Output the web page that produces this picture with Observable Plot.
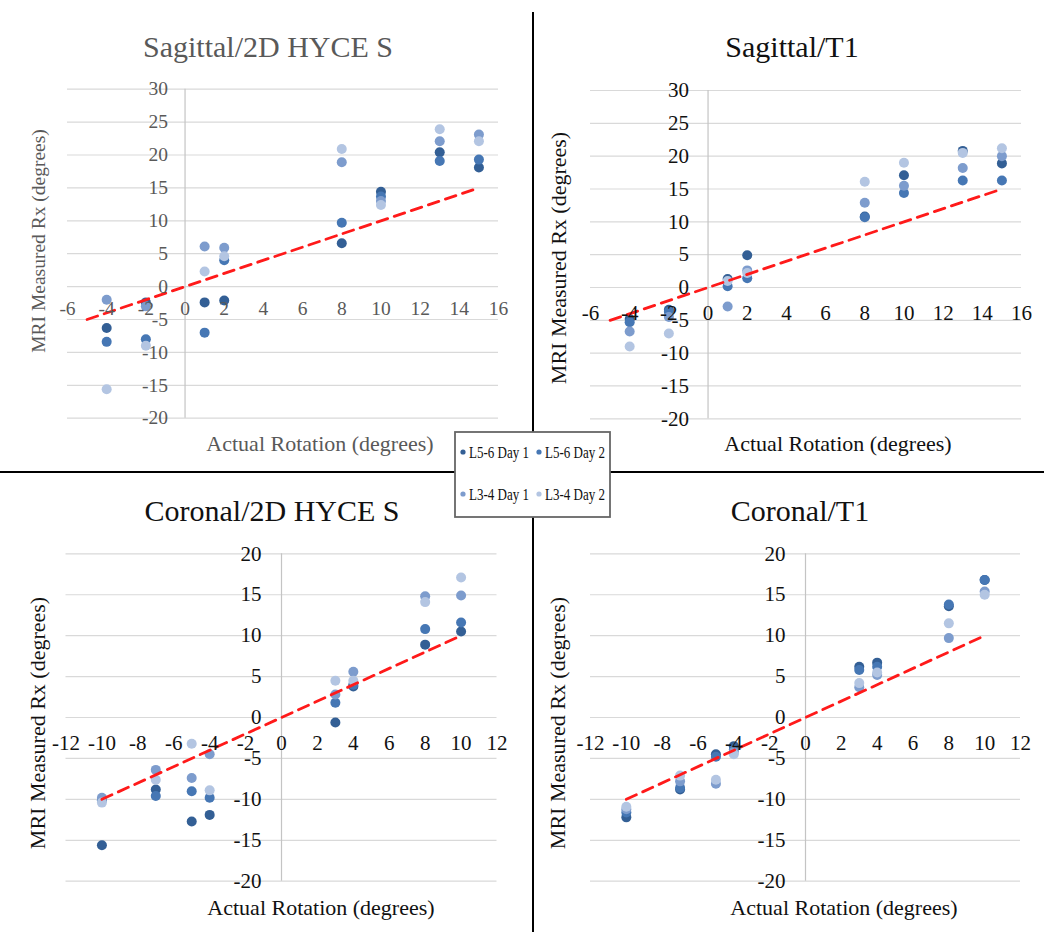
<!DOCTYPE html>
<html>
<head>
<meta charset="utf-8">
<script src="https://cdn.jsdelivr.net/npm/d3@7"></script>
<script src="https://cdn.jsdelivr.net/npm/@observablehq/plot@0.6"></script>
<style>
  body { margin: 0; background: #fff; }
  #root { position: relative; width: 1044px; height: 932px; overflow: hidden; font-family: "Liberation Serif", "Times New Roman", serif; }
  .panel { position: absolute; }
  .panel svg { display: block; max-width: none; font-family: "Liberation Serif", "Times New Roman", serif !important; }
  .panel svg text { font-family: "Liberation Serif", "Times New Roman", serif !important; }
  #overlay { position: absolute; left: 0; top: 0; pointer-events: none; }
</style>
</head>
<body>
<div id="root"></div>
<script>
// ---- series ----
const seriesNames = ["L5-6 Day 1", "L5-6 Day 2", "L3-4 Day 1", "L3-4 Day 2"];
const seriesColors = ["#335f95", "#4677b4", "#7d9ccd", "#b3c5e2"];

// ---- ticks ----
const xTicksSag = [-6, -4, -2, 0, 2, 4, 6, 8, 10, 12, 14, 16];
const yTicksSag = [-20, -15, -10, -5, 0, 5, 10, 15, 20, 25, 30];
const xTicksCor = [-12, -10, -8, -6, -4, -2, 0, 2, 4, 6, 8, 10, 12];
const yTicksCor = [-20, -15, -10, -5, 0, 5, 10, 15, 20];

// ---- identity reference lines (actual = measured) ----
const refLineSag = [-5, 15];
const refLineCor = [-10, 10];

// ---- Sagittal / 2D HYCE S ----
const sagHyceX = [-4, -2, 1, 2, 8, 10, 13, 15];
const sagHyceL56D1 = [-6.3, -2.4, -2.4, -2.1, 6.6, 14.4, 20.4, 18.1];
const sagHyceL56D2 = [-8.4, -8.0, -7.0, 4.0, 9.7, 13.7, 19.1, 19.3];
const sagHyceL34D1 = [-2.0, -3.0, 6.1, 5.9, 18.9, 13.0, 22.1, 23.1];
const sagHyceL34D2 = [-15.6, -9.0, 2.3, 4.6, 20.9, 12.4, 23.9, 22.1];

// ---- Sagittal / T1 ----
const sagT1X = [-4, -2, 1, 2, 8, 10, 13, 15];
const sagT1L56D1 = [-4.8, -3.4, 1.3, 4.9, 10.8, 17.1, 20.8, 18.9];
const sagT1L56D2 = [-5.3, -3.7, 0.2, 1.4, 10.7, 14.4, 16.3, 16.3];
const sagT1L34D1 = [-6.7, -4.5, -2.9, 2.6, 12.9, 15.5, 18.2, 20.0];
const sagT1L34D2 = [-9.0, -7.0, 1.0, 2.2, 16.1, 19.0, 20.5, 21.2];

// ---- Coronal / 2D HYCE S ----
const corHyceX = [-10, -7, -5, -4, 3, 4, 8, 10];
const corHyceL56D1 = [-15.6, -8.8, -12.7, -11.9, -0.6, 3.8, 8.9, 10.5];
const corHyceL56D2 = [-10.1, -9.6, -9.0, -9.8, 1.8, 4.0, 10.8, 11.6];
const corHyceL34D1 = [-9.8, -6.4, -7.4, -4.5, 2.8, 5.6, 14.8, 14.9];
const corHyceL34D2 = [-10.4, -7.6, -3.2, -8.9, 4.5, 4.5, 14.1, 17.1];

// ---- Coronal / T1 ----
const corT1X = [-10, -7, -5, -4, 3, 4, 8, 10];
const corT1L56D1 = [-12.2, -8.8, -4.5, -3.5, 6.2, 6.7, 13.6, 16.8];
const corT1L56D2 = [-11.6, -8.6, -4.8, -3.9, 5.8, 6.2, 13.8, 16.8];
const corT1L34D1 = [-11.2, -7.8, -8.1, -4.2, 3.7, 5.2, 9.7, 15.4];
const corT1L34D2 = [-10.9, -7.1, -7.6, -4.5, 4.2, 5.5, 11.5, 15.0];

const serif = '"Liberation Serif", "Times New Roman", serif';

function toRows(xs, seriesArrays) {
  return seriesArrays.flatMap((arr, si) => arr.map((v, i) => ({x: xs[i], y: v, series: seriesNames[si]})));
}

const root = document.getElementById("root");

function panel(cfg) {
  const rows = toRows(cfg.xs, cfg.series);
  const svg = Plot.plot({
    width: cfg.width, height: cfg.height,
    marginLeft: cfg.ml, marginRight: cfg.mr, marginTop: cfg.mt, marginBottom: cfg.mb,
    x: {domain: cfg.xDomain, axis: null},
    y: {domain: cfg.yDomain, axis: null},
    color: {domain: seriesNames, range: seriesColors},
    style: {fontFamily: serif, background: "transparent", overflow: "visible"},
    marks: [
      Plot.ruleY(cfg.yTicks, {stroke: "#d9d9d9", strokeWidth: 1.2}),
      Plot.ruleX([0], {stroke: "#c4c4c4", strokeWidth: 1.2}),
      Plot.dot(rows, {x: "x", y: "y", fill: "series", r: 5, stroke: "none"}),
      Plot.line(cfg.ref, {x: d => d, y: d => d, stroke: "#ff1a1a", strokeWidth: 2.8, strokeDasharray: "11,7"}),
      Plot.text(cfg.xTicks, {x: d => d, y: () => 0, dy: cfg.xdy, text: d => String(d), fill: cfg.tickColor, fontSize: cfg.tickSize, fontFamily: serif}),
      Plot.text(cfg.yTicks, {x: () => 0, y: d => d, dx: cfg.ydx, text: d => String(d), textAnchor: "end", fill: cfg.tickColor, fontSize: cfg.tickSize, fontFamily: serif})
    ]
  });
  const div = document.createElement("div");
  div.className = "panel";
  div.style.left = cfg.left + "px";
  div.style.top = cfg.top + "px";
  div.style.width = cfg.width + "px";
  div.style.height = cfg.height + "px";
  div.appendChild(svg);
  root.appendChild(div);
}

panel({
  left: 0, top: 0, width: 530, height: 465, ml: 67, mr: 32, mt: 88.7, mb: 47.3,
  xDomain: [-6, 16], yDomain: [-20, 30], xTicks: xTicksSag, yTicks: yTicksSag,
  xs: sagHyceX, series: [sagHyceL56D1, sagHyceL56D2, sagHyceL34D1, sagHyceL34D2],
  ref: refLineSag, tickColor: "#595959", tickSize: 19.5, xdy: 22, ydx: -17
});
panel({
  left: 535, top: 0, width: 509, height: 465, ml: 55, mr: 23, mt: 90, mb: 46.7,
  xDomain: [-6, 16], yDomain: [-20, 30], xTicks: xTicksSag, yTicks: yTicksSag,
  xs: sagT1X, series: [sagT1L56D1, sagT1L56D2, sagT1L34D1, sagT1L34D2],
  ref: refLineSag, tickColor: "#111", tickSize: 21, xdy: 26, ydx: -19
});
panel({
  left: 0, top: 475, width: 530, height: 457, ml: 65.5, mr: 33.5, mt: 78.3, mb: 51.3,
  xDomain: [-12, 12], yDomain: [-20, 20], xTicks: xTicksCor, yTicks: yTicksCor,
  xs: corHyceX, series: [corHyceL56D1, corHyceL56D2, corHyceL34D1, corHyceL34D2],
  ref: refLineCor, tickColor: "#111", tickSize: 21, xdy: 26, ydx: -20
});
panel({
  left: 535, top: 475, width: 509, height: 457, ml: 55, mr: 24, mt: 78.3, mb: 51.3,
  xDomain: [-12, 12], yDomain: [-20, 20], xTicks: xTicksCor, yTicks: yTicksCor,
  xs: corT1X, series: [corT1L56D1, corT1L56D2, corT1L34D1, corT1L34D2],
  ref: refLineCor, tickColor: "#111", tickSize: 21, xdy: 26, ydx: -20
});

// ---- overlay: titles, axis labels, dividers, legend ----
const titles = ["Sagittal/2D HYCE S", "Sagittal/T1", "Coronal/2D HYCE S", "Coronal/T1"];
const xTitle = "Actual Rotation (degrees)";
const yTitle = "MRI Measured Rx (degrees)";

const ov = d3.select(root).append("svg").attr("id", "overlay")
  .attr("width", 1044).attr("height", 932)
  .style("font-family", serif);

// dividers
const dv = ov.append("g").attr("stroke", "#000").attr("stroke-width", 2);
dv.append("line").attr("x1", 533).attr("x2", 533).attr("y1", 12).attr("y2", 432);
dv.append("line").attr("x1", 533).attr("x2", 533).attr("y1", 517).attr("y2", 932);
dv.append("line").attr("x1", 0).attr("x2", 455).attr("y1", 472).attr("y2", 472);
dv.append("line").attr("x1", 610).attr("x2", 1044).attr("y1", 472).attr("y2", 472);

const textSpecs = [
  {t: titles[0], x: 268, y: 57, size: 30, fill: "#595959"},
  {t: titles[1], x: 792, y: 57, size: 30, fill: "#111"},
  {t: titles[2], x: 272, y: 521, size: 30, fill: "#111"},
  {t: titles[3], x: 800, y: 521, size: 30, fill: "#111"},
  {t: xTitle, x: 320, y: 451, size: 22, fill: "#595959"},
  {t: xTitle, x: 838, y: 451, size: 22, fill: "#111"},
  {t: xTitle, x: 321, y: 915, size: 22, fill: "#111"},
  {t: xTitle, x: 844, y: 915, size: 22, fill: "#111"}
];
for (const s of textSpecs) {
  ov.append("text").attr("x", s.x).attr("y", s.y).attr("text-anchor", "middle")
    .attr("font-size", s.size).attr("fill", s.fill).text(s.t);
}
const yLabelSpecs = [
  {x: 45, y: 241, size: 19.5, fill: "#595959"},
  {x: 566, y: 258, size: 22, fill: "#111"},
  {x: 45, y: 723, size: 22, fill: "#111"},
  {x: 565, y: 723, size: 22, fill: "#111"}
];
for (const s of yLabelSpecs) {
  ov.append("text").attr("transform", `translate(${s.x},${s.y}) rotate(-90)`)
    .attr("text-anchor", "middle").attr("font-size", s.size).attr("fill", s.fill).text(yTitle);
}

// legend
const lg = ov.append("g");
lg.append("rect").attr("x", 455).attr("y", 432).attr("width", 155).attr("height", 85)
  .attr("fill", "#fff").attr("stroke", "#666").attr("stroke-width", 1.8);
const legendPos = [[463, 452], [539, 452], [463, 494], [539, 494]];
seriesNames.forEach((name, i) => {
  const [lx, ly] = legendPos[i];
  lg.append("circle").attr("cx", lx).attr("cy", ly).attr("r", 2.6).attr("fill", seriesColors[i]);
  lg.append("text").attr("x", lx + 6).attr("y", ly + 6).attr("font-size", 17).attr("fill", "#111")
    .attr("textLength", 60).attr("lengthAdjust", "spacingAndGlyphs").text(name);
});
</script>
</body>
</html>
